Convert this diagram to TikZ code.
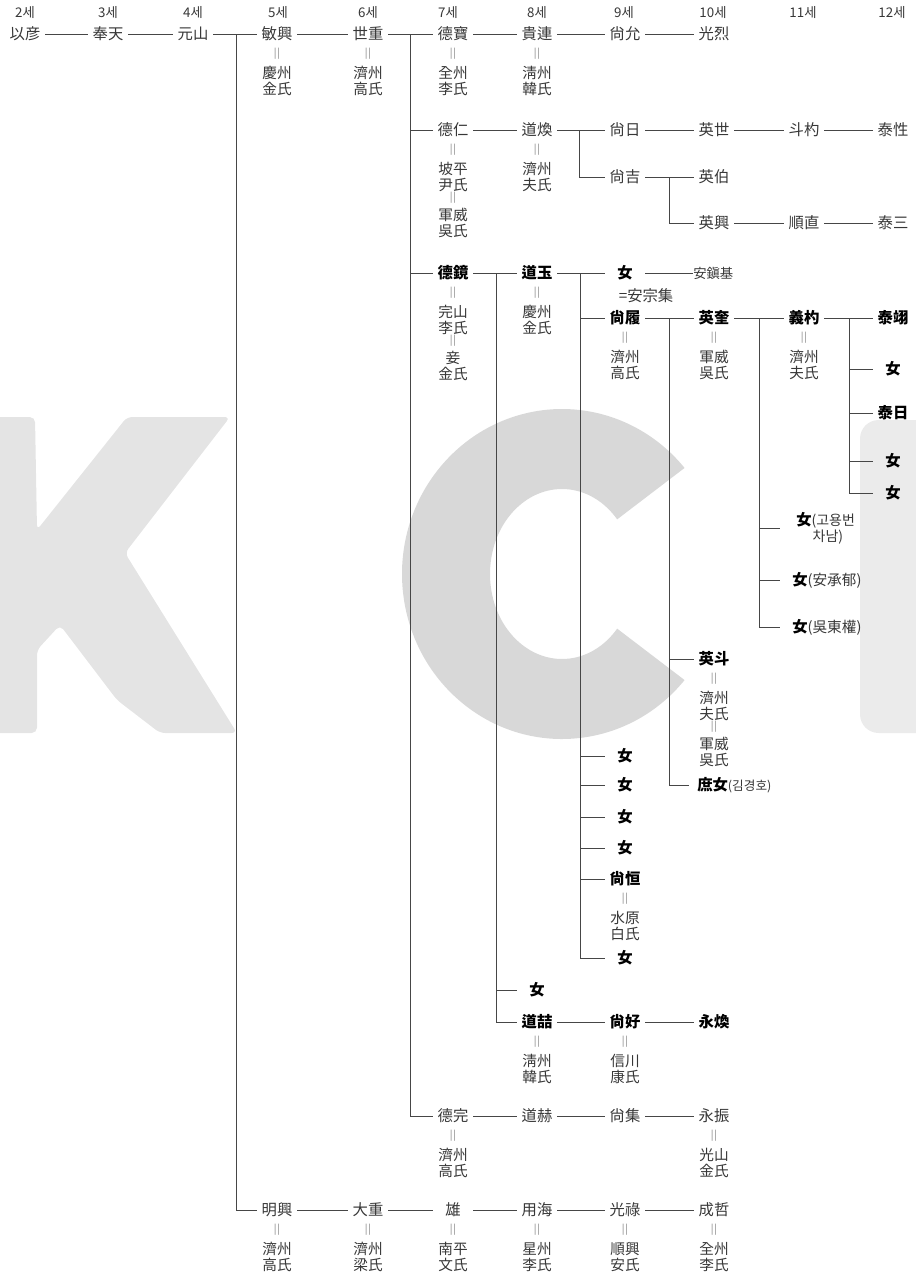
\documentclass[tikz,border=0pt]{standalone}
\usepackage{fontspec}
\newfontfamily\cjk{Noto Sans CJK KR}
\usetikzlibrary{calc}
\definecolor{txt}{RGB}{55,55,55}
\definecolor{lnc}{RGB}{70,70,70}
\definecolor{wmk}{RGB}{228,228,228}
\definecolor{wmc}{RGB}{216,216,216}
\definecolor{wmi}{RGB}{235,235,235}
\newcommand\marA[3]{\path (#1) ++(0,20) node[eq] (#1e) {|\kern0.6pt|} ++(0,27) node[sp] (#1s) {#2\\#3};}
\newcommand\marB[3]{\path (#1) ++(0,68) node[eq] (#1f) {|\kern0.6pt|} ++(0,25) node[sp] (#1t) {#2\\#3};}
\begin{document}
\begin{tikzpicture}[x=0.75pt,y=-0.75pt,
  nm/.style={font=\cjk\fontsize{11.5}{12}\selectfont, text=txt, minimum width=30pt, inner xsep=0pt, inner ysep=1pt},
  bn/.style={nm, font=\cjk\fontsize{11.5}{12}\selectfont\bfseries, text=black},
  sp/.style={font=\cjk\fontsize{11}{12}\selectfont, text=txt, align=center, inner sep=0pt},
  eq/.style={font=\cjk\fontsize{7.5}{8}\selectfont, text=txt!65, inner sep=0pt},
  hd/.style={font=\cjk\fontsize{10}{10}\selectfont, text=txt, inner sep=0pt},
  ln/.style={draw=lnc, line width=0.7pt}]
\useasboundingbox (0,0) rectangle (916,1275);
% watermark
\begin{scope}
\clip (0,0) rectangle (916,1275);
\fill[wmk, rounded corners=4] (-10,417) -- (35,417) -- (37,530) -- (127,417) -- (230,417) -- (125,553) -- (237,733) -- (160,733) -- (117,700) -- (60,625) -- (37,650) -- (37,733) -- (-10,733) -- cycle;
\fill[wmc] ($(562,574)+(40:160 and 165)$) arc[start angle=40, end angle=320, x radius=160, y radius=165] -- ($(562,574)+(320:72 and 85)$) arc[start angle=320, end angle=40, x radius=72, y radius=85] -- cycle;
\fill[wmi, rounded corners=14] (860,420) rectangle (950,733);
\end{scope}
% header
\node[hd] (h2) at (25,13) {2세};
\node[hd] (h3) at (108,13) {3세};
\node[hd] (h4) at (193,13) {4세};
\node[hd] (h5) at (278,13) {5세};
\node[hd] (h6) at (368,13) {6세};
\node[hd] (h7) at (448,13) {7세};
\node[hd] (h8) at (537,13) {8세};
\node[hd] (h9) at (624,13) {9세};
\node[hd] (h10) at (713,13) {10세};
\node[hd] (h11) at (803,13) {11세};
\node[hd] (h12) at (892,13) {12세};
% row A
\node[nm] (n1) at (25,34) {以彦};
\node[nm] (n2) at (108,34) {奉天};
\node[nm] (n3) at (193,34) {元山};
\node[nm] (n4) at (277,34) {敏興};
\node[nm] (n5) at (368,34) {世重};
\node[nm] (n6) at (453,34) {德寶};
\node[nm] (n7) at (537,34) {貴連};
\node[nm] (n8) at (625,34) {尙允};
\node[nm] (n9) at (714,34) {光烈};
\marA{n4}{慶州}{金氏}
\marA{n5}{濟州}{高氏}
\marA{n6}{全州}{李氏}
\marA{n7}{淸州}{韓氏}
% row B
\node[nm] (b7) at (453,130) {德仁};
\node[nm] (b8) at (537,130) {道煥};
\node[nm] (b9) at (625,130) {尙日};
\node[nm] (b10) at (714,130) {英世};
\node[nm] (b11) at (804,130) {斗杓};
\node[nm] (b12) at (893,130) {泰性};
\marA{b7}{坡平}{尹氏}
\marB{b7}{軍威}{吳氏}
\marA{b8}{濟州}{夫氏}
\node[nm] (c9) at (625,177) {尙吉};
\node[nm] (c10) at (714,177) {英伯};
\node[nm] (d10) at (714,223) {英興};
\node[nm] (d11) at (804,223) {順直};
\node[nm] (d12) at (893,223) {泰三};
% row E
\node[bn] (e7) at (453,273) {德鏡};
\node[bn] (e8) at (537,273) {道玉};
\node[bn] (e9) at (625,273) {女};
\node[font=\cjk\fontsize{10}{10}\selectfont, text=txt, anchor=west, inner sep=0pt] (ek) at (693,273) {安鎭基};
\node[nm, inner sep=0pt] (ez) at (646,296) {=安宗集};
\marA{e7}{完山}{李氏}
\marB{e7}{妾}{金氏}
\marA{e8}{慶州}{金氏}
% row F
\node[bn] (f9) at (625,318) {尙履};
\node[bn] (f10) at (714,318) {英奎};
\node[bn] (f11) at (804,318) {義杓};
\node[bn] (f12) at (893,318) {泰翊};
\marA{f9}{濟州}{高氏}
\marA{f10}{軍威}{吳氏}
\marA{f11}{濟州}{夫氏}
\node[bn] (g12) at (893,369) {女};
\node[bn] (h12) at (893,413) {泰日};
\node[bn] (i12) at (893,461) {女};
\node[bn] (j12) at (893,493) {女};
\node[font=\cjk\fontsize{11.5}{12}\selectfont, text=black, align=center, anchor=west, inner xsep=12pt, inner ysep=0pt] (k11) at (780,528) {\textbf{女}{\fontsize{10.5}{11}\selectfont\color{txt}(고용번}\\{\fontsize{10.5}{11}\selectfont\color{txt}\,\,차남)}};
\node[font=\cjk\fontsize{11.5}{12}\selectfont, text=black, anchor=west, inner xsep=9pt, inner ysep=1pt] (l11) at (780,580) {\textbf{女}{\fontsize{11}{11}\selectfont\color{txt}(安承郁)}};
\node[font=\cjk\fontsize{11.5}{12}\selectfont, text=black, anchor=west, inner xsep=9pt, inner ysep=1pt] (m11) at (780,627) {\textbf{女}{\fontsize{11}{11}\selectfont\color{txt}(吳東權)}};
\node[bn] (o10) at (714,659) {英斗};
\marA{o10}{濟州}{夫氏}
\marB{o10}{軍威}{吳氏}
\node[font=\cjk\fontsize{11.5}{12}\selectfont, text=black, anchor=west, inner xsep=6pt, inner ysep=1pt] (p10) at (689,785) {\textbf{庶女}{\fontsize{9.5}{10}\selectfont\color{txt}(김경호)}};
\node[bn] (q9) at (625,756) {女};
\node[bn] (r9) at (625,785) {女};
\node[bn] (s9) at (625,817) {女};
\node[bn] (t9) at (625,848) {女};
\node[bn] (u9) at (625,879) {尙恒};
\marA{u9}{水原}{白氏}
\node[bn] (w9) at (625,958) {女};
\node[bn] (x8) at (537,990) {女};
% row Y
\node[bn] (y8) at (537,1022) {道喆};
\node[bn] (y9) at (625,1022) {尙好};
\node[bn] (y10) at (714,1022) {永煥};
\marA{y8}{淸州}{韓氏}
\marA{y9}{信川}{康氏}
% row Z
\node[nm] (z7) at (453,1116) {德完};
\node[nm] (z8) at (537,1116) {道赫};
\node[nm] (z9) at (625,1116) {尙集};
\node[nm] (z10) at (714,1116) {永振};
\marA{z7}{濟州}{高氏}
\marA{z10}{光山}{金氏}
% bottom row
\node[nm] (bt5) at (277,1210) {明興};
\node[nm] (bt6) at (368,1210) {大重};
\node[nm] (bt7) at (453,1210) {雄};
\node[nm] (bt8) at (537,1210) {用海};
\node[nm] (bt9) at (625,1210) {光祿};
\node[nm] (bt10) at (714,1210) {成哲};
\marA{bt5}{濟州}{高氏}
\marA{bt6}{濟州}{梁氏}
\marA{bt7}{南平}{文氏}
\marA{bt8}{星州}{李氏}
\marA{bt9}{順興}{安氏}
\marA{bt10}{全州}{李氏}
% branch points
\coordinate (v4) at (236,34);
\coordinate (v6) at (410,34);
\coordinate (v7) at (496,273);
\coordinate (v8a) at (579,130);
\coordinate (v8b) at (580,273);
\coordinate (v9a) at (669,177);
\coordinate (v9b) at (669,318);
\coordinate (v10) at (759,318);
\coordinate (v11) at (849,318);
% connectors
\draw[ln] (n1) -- (n2);
\draw[ln] (n2) -- (n3);
\draw[ln] (n3) -- (n4);
\draw[ln] (n4) -- (n5);
\draw[ln] (n5) -- (n6);
\draw[ln] (n6) -- (n7);
\draw[ln] (n7) -- (n8);
\draw[ln] (n8) -- (n9);
\draw[ln] (v4) |- (bt5);
\draw[ln] (v6) |- (b7);
\draw[ln] (v6) |- (e7);
\draw[ln] (v6) |- (z7);
\draw[ln] (b7) -- (b8);
\draw[ln] (b8) -- (b9);
\draw[ln] (v8a) |- (c9);
\draw[ln] (b9) -- (b10);
\draw[ln] (b10) -- (b11);
\draw[ln] (b11) -- (b12);
\draw[ln] (c9) -- (c10);
\draw[ln] (v9a) |- (d10);
\draw[ln] (d10) -- (d11);
\draw[ln] (d11) -- (d12);
\draw[ln] (e7) -- (e8);
\draw[ln] (v7) |- (x8);
\draw[ln] (v7) |- (y8);
\draw[ln] (e8) -- (e9);
\draw[ln] (e9) -- (ek);
\draw[ln] (v8b) |- (f9);
\draw[ln] (v8b) |- (q9);
\draw[ln] (v8b) |- (r9);
\draw[ln] (v8b) |- (s9);
\draw[ln] (v8b) |- (t9);
\draw[ln] (v8b) |- (u9);
\draw[ln] (v8b) |- (w9);
\draw[ln] (f9) -- (f10);
\draw[ln] (v9b) |- (o10);
\draw[ln] (v9b) |- (p10);
\draw[ln] (f10) -- (f11);
\draw[ln] (v10) |- (k11);
\draw[ln] (v10) |- (l11);
\draw[ln] (v10) |- (m11);
\draw[ln] (f11) -- (f12);
\draw[ln] (v11) |- (g12);
\draw[ln] (v11) |- (h12);
\draw[ln] (v11) |- (i12);
\draw[ln] (v11) |- (j12);
\draw[ln] (y8) -- (y9);
\draw[ln] (y9) -- (y10);
\draw[ln] (z7) -- (z8);
\draw[ln] (z8) -- (z9);
\draw[ln] (z9) -- (z10);
\draw[ln] (bt5) -- (bt6);
\draw[ln] (bt6) -- (bt7);
\draw[ln] (bt7) -- (bt8);
\draw[ln] (bt8) -- (bt9);
\draw[ln] (bt9) -- (bt10);
\end{tikzpicture}
\end{document}
